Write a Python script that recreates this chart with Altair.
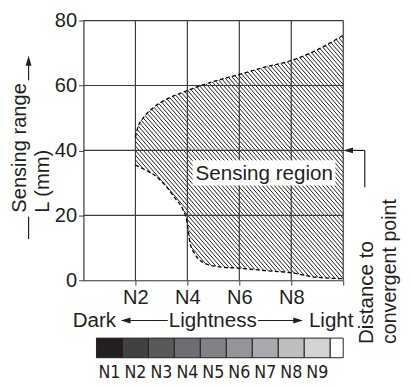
import altair as alt
import pandas as pd
import numpy as np

# ---------------- data ----------------
upper_x = [2.0, 2.08, 2.33, 2.71, 3.21, 3.99, 4.86, 6.0, 7.0, 8.0, 9.0, 10.0]
upper_y = [44.0, 46.8, 50.3, 53.3, 55.8, 58.4, 60.9, 63.4, 65.7, 67.7, 71.0, 75.5]
lower_x = [2.0, 2.33, 2.84, 3.21, 3.53, 3.84, 3.97, 4.03, 4.1, 4.29, 4.6, 5.1, 6.0, 7.0, 8.0, 8.9, 10.0]
lower_y = [35.5, 34.2, 31.7, 28.7, 25.2, 21.6, 18.6, 15.6, 11.6, 8.1, 5.5, 4.3, 3.7, 3.0, 2.3, 1.0, 0.5]

grid_x = [2, 4, 6, 8, 10]
grid_y = [20, 40, 60, 80]
x_ticks = [2, 4, 6, 8, 10]
y_ticks = [0, 20, 40, 60, 80]

levels = [1, 2, 3, 4, 5, 6, 7, 8, 9, 10]
level_labels = ["N1", "N2", "N3", "N4", "N5", "N6", "N7", "N8", "N9", ""]
level_colors = ["#231f20", "#414042", "#58595b", "#6d6e71", "#808285",
                "#939598", "#a7a9ac", "#bcbec0", "#d1d3d4", "#ffffff"]

# annotation label box / text (data units)
label_text = ["Sensing region"]
label_x = [6.96]
label_y = [30.9]
label_box = {"bx0": [4.2], "bx1": [9.7], "by0": [29.2], "by1": [37.0]}

# ---------------- layout / style ----------------
W, H = 265, 265
XD, YD = [0, 10], [0, 80]
FONT = "Liberation Sans, Arial, sans-serif"
NARROW = "DejaVu Sans Condensed, Liberation Sans Narrow, sans-serif"
INK = "#231f20"
GRID = "#3c3c3c"
FS = 21

xs = alt.Scale(domain=XD, nice=False, zero=False)
ys = alt.Scale(domain=YD, nice=False, zero=False)

x_axis = alt.Axis(values=x_ticks, labelExpr="datum.value < 10 ? 'N' + datum.value : ''",
                  title=None, grid=False, tickSize=5, labelFontSize=20.5, labelFont=FONT,
                  labelColor=INK, domainColor=GRID, tickColor=GRID, labelPadding=3,
                  zindex=1, labelFlush=False, domainWidth=1.2)
y_axis = alt.Axis(values=y_ticks, title=None, grid=False, tickSize=5, labelFontSize=20.5,
                  labelFont=FONT, labelColor=INK, domainColor=GRID, tickColor=GRID,
                  labelPadding=2, zindex=1, labelFlush=False, domainWidth=1.2)

# hatch lines (decoration): diagonal "\" lines over the plot, masked outside region
HATCH_STEP = 4.1
HATCH_SLOPE = 1.15
run = H / HATCH_SLOPE
cs = np.arange(-run, W + HATCH_STEP, HATCH_STEP)
hatch_df = pd.DataFrame({"hx1": cs / W * XD[1], "hy1": float(YD[1]),
                         "hx2": (cs + run) / W * XD[1], "hy2": float(YD[0])})

upper_df = pd.DataFrame({"x": upper_x, "y": upper_y})
upper_df["top"] = YD[1]
lower_df = pd.DataFrame({"x": lower_x, "y": lower_y})
lower_df["bot"] = YD[0]
left_df = pd.DataFrame({"x0": [XD[0]], "x1": [upper_x[0]], "y0": [YD[0]], "y1": [YD[1]]})
one = pd.DataFrame({"a": [0]})

hatch = alt.Chart(hatch_df).mark_rule(clip=True, color="black", strokeWidth=0.9).encode(
    x=alt.X("hx1:Q", scale=xs, axis=x_axis),
    y=alt.Y("hy1:Q", scale=ys, axis=y_axis),
    x2="hx2:Q", y2="hy2:Q")

mask_up = alt.Chart(upper_df).mark_area(color="white", opacity=1, interpolate="monotone").encode(
    x="x:Q", y="y:Q", y2="top:Q")
mask_lo = alt.Chart(lower_df).mark_area(color="white", opacity=1, interpolate="monotone").encode(
    x="x:Q", y="bot:Q", y2="y:Q")
mask_left = alt.Chart(left_df).mark_rect(color="white").encode(
    x="x0:Q", x2="x1:Q", y="y0:Q", y2="y1:Q")

gx = alt.Chart(pd.DataFrame({"gx": grid_x})).mark_rule(color=GRID, strokeWidth=1.2).encode(x="gx:Q")
gy = alt.Chart(pd.DataFrame({"gy": grid_y})).mark_rule(color=GRID, strokeWidth=1.2).encode(y="gy:Q")

b_up = alt.Chart(upper_df).mark_line(color="black", strokeWidth=1.3, strokeDash=[4, 2.5],
                                     interpolate="monotone").encode(x="x:Q", y="y:Q")
b_lo = alt.Chart(lower_df).mark_line(color="black", strokeWidth=1.3, strokeDash=[4, 2.5],
                                     interpolate="monotone").encode(x="x:Q", y="y:Q")

box = alt.Chart(pd.DataFrame(label_box)).mark_rect(color="white").encode(
    x="bx0:Q", x2="bx1:Q", y="by0:Q", y2="by1:Q")
region_txt = alt.Chart(pd.DataFrame({"t": label_text, "lx": label_x, "ly": label_y})).mark_text(
    fontSize=FS, font=FONT, color=INK, align="center", baseline="alphabetic").encode(
    x="lx:Q", y="ly:Q", text="t:N")

# --- annotations (pixel positions relative to plot origin) ---
def txt(s, x, y, angle=0, align="left", font=FONT, size=FS):
    kw = dict(text=s, fontSize=size, font=font, color=INK, align=align, baseline="alphabetic")
    if angle:
        kw["angle"] = angle
    return alt.Chart(one).mark_text(**kw).encode(x=alt.value(x), y=alt.value(y))

def seg(x1, y1, x2, y2):
    return alt.Chart(one).mark_rule(color=INK, strokeWidth=1.2).encode(
        x=alt.value(x1), y=alt.value(y1), x2=alt.value(x2), y2=alt.value(y2))

PATHS = {"left": "M -1 0 L 1 -0.6 L 1 0.6 Z",
         "right": "M 1 0 L -1 -0.6 L -1 0.6 Z",
         "up": "M 0 -1 L -0.6 1 L 0.6 1 Z"}

def head(x, y, shape):
    return alt.Chart(one).mark_point(shape=PATHS[shape], filled=True, size=100, color=INK,
                                     opacity=1, strokeWidth=0).encode(
        x=alt.value(x), y=alt.value(y))

annos = [
    txt("Sensing range", -59, 196, angle=270, size=20.5),
    txt("L (mm)", -35, 196, angle=270, size=20.5),
    seg(-56, 200, -56, 223),
    seg(-56, 44, -56, 61),
    head(-56, 41, "up"),
    txt("Dark", -11, 313),
    txt("Lightness", 87, 313),
    txt("Light", 230, 313),
    seg(47, 306, 86, 306),
    head(43, 306, "left"),
    seg(178, 306, 215, 306),
    head(219, 306, "right"),
    txt("Distance to", 295, 330, angle=270),
    txt("convergent point", 319, 330, angle=270, size=20),
    seg(287, 132.5, 287, 170),
    seg(274, 132.5, 287, 132.5),
    head(270, 132.5, "left"),
]

# grey lightness scale
lv = pd.DataFrame({"level": levels, "label": level_labels, "color": level_colors})
lv["x0"] = lv["level"] - 0.5
lv["x1"] = np.minimum(lv["level"] + 0.5, XD[1])
bar = alt.Chart(lv).mark_rect(stroke=INK, strokeWidth=1).encode(
    x="x0:Q", x2="x1:Q", y=alt.value(324), y2=alt.value(344),
    fill=alt.Fill("color:N", scale=None))
bar_lbl = alt.Chart(lv).mark_text(fontSize=18, font=NARROW, color=INK, align="center",
                                  baseline="alphabetic").encode(
    x="level:Q", y=alt.value(365), text="label:N")

chart = alt.layer(hatch, mask_up, mask_lo, mask_left, gx, gy, b_up, b_lo, box, region_txt,
                  bar, bar_lbl, *annos).properties(
    width=W, height=H,
    autosize=alt.AutoSizeParams(type="none"),
    padding={"left": 77, "top": 9, "right": 61, "bottom": 102},
).configure_view(stroke=None).configure(background="white")

chart.save("out.html", embed_options={"renderer": "svg", "actions": False})
